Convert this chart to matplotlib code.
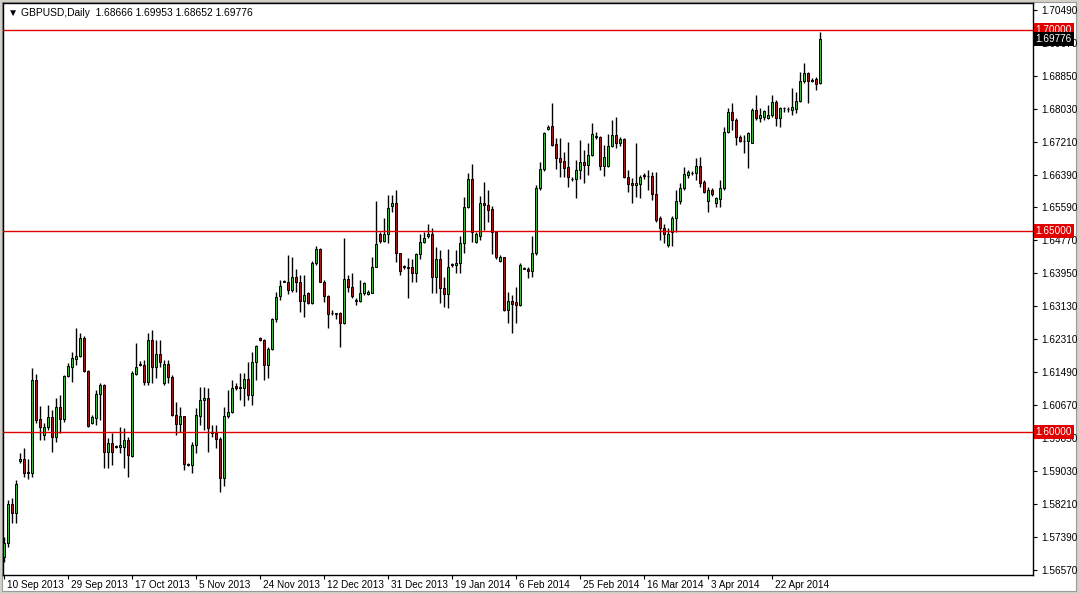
import matplotlib
matplotlib.use("Agg")
import matplotlib.pyplot as plt
import matplotlib.transforms as mtransforms
from matplotlib.patches import Rectangle

# GBPUSD daily candles, 10 Sep 2013 .. 6 May 2014
opens = [
    1.5689, 1.5724, 1.5821, 1.5799, 1.5928, 1.5933, 1.5901, 1.5898, 1.6129, 1.6032,
    1.5993, 1.6012, 1.6037, 1.5988, 1.6062, 1.6032, 1.6139, 1.6162, 1.6182, 1.6189,
    1.6234, 1.6152, 1.6022, 1.6035, 1.6095, 1.6117, 1.5950, 1.5973, 1.5965, 1.5963,
    1.5963, 1.5980, 1.5940, 1.6144, 1.6167, 1.6167, 1.6124, 1.6229, 1.6162, 1.6194,
    1.6122, 1.6169, 1.6137, 1.6042, 1.6020, 1.6040, 1.5920, 1.5918, 1.5968, 1.6040,
    1.6080, 1.6085, 1.6000, 1.5998, 1.5983, 1.5886, 1.6040, 1.6050, 1.6114, 1.6109,
    1.6109, 1.6132, 1.6092, 1.6174, 1.6234, 1.6229, 1.6167, 1.6206, 1.6281, 1.6337,
    1.6374, 1.6374, 1.6354, 1.6386, 1.6374, 1.6326, 1.6346, 1.6321, 1.6421, 1.6456,
    1.6374, 1.6337, 1.6296, 1.6296, 1.6296, 1.6271, 1.6381, 1.6361, 1.6326, 1.6326,
    1.6346, 1.6344, 1.6346, 1.6411, 1.6491, 1.6476, 1.6491, 1.6563, 1.6570, 1.6446,
    1.6411, 1.6409, 1.6411, 1.6396, 1.6443, 1.6473, 1.6486, 1.6493, 1.6386, 1.6431,
    1.6359, 1.6344, 1.6416, 1.6416, 1.6421, 1.6471, 1.6560, 1.6629, 1.6473, 1.6488,
    1.6570, 1.6565, 1.6555, 1.6496, 1.6426, 1.6436, 1.6304, 1.6326, 1.6324, 1.6316,
    1.6406, 1.6406, 1.6401, 1.6446, 1.6607, 1.6654, 1.6753, 1.6761, 1.6716, 1.6681,
    1.6674, 1.6659, 1.6629, 1.6629, 1.6652, 1.6672, 1.6664, 1.6689, 1.6733, 1.6733,
    1.6661, 1.6661, 1.6711, 1.6738, 1.6718, 1.6728, 1.6634, 1.6619, 1.6615, 1.6617,
    1.6637, 1.6637, 1.6637, 1.6592, 1.6533, 1.6506, 1.6466, 1.6496, 1.6531, 1.6573,
    1.6607, 1.6639, 1.6644, 1.6644, 1.6662, 1.6622, 1.6573, 1.6602, 1.6570, 1.6578,
    1.6607, 1.6746, 1.6796, 1.6776, 1.6733, 1.6724, 1.6724, 1.6719, 1.6801, 1.6781,
    1.6784, 1.6781, 1.6789, 1.6821, 1.6781, 1.6806, 1.6803, 1.6801, 1.6803, 1.6823,
    1.6873, 1.6893, 1.6875, 1.6878, 1.68666,
]
highs = [
    1.5739, 1.5831, 1.5836, 1.5881, 1.5948, 1.5960, 1.5933, 1.6159, 1.6144, 1.6065,
    1.6022, 1.6067, 1.6055, 1.6085, 1.6092, 1.6142, 1.6171, 1.6199, 1.6259, 1.6246,
    1.6239, 1.6154, 1.6042, 1.6104, 1.6122, 1.6119, 1.5985, 1.5998, 1.5968, 1.6012,
    1.6010, 1.5988, 1.6152, 1.6221, 1.6177, 1.6179, 1.6246, 1.6254, 1.6229, 1.6229,
    1.6179, 1.6179, 1.6142, 1.6075, 1.6062, 1.6040, 1.5923, 1.5975, 1.6060, 1.6112,
    1.6112, 1.6109, 1.6017, 1.6017, 1.5988, 1.6062, 1.6104, 1.6129, 1.6122, 1.6147,
    1.6147, 1.6174, 1.6199, 1.6216, 1.6236, 1.6231, 1.6211, 1.6283, 1.6348, 1.6379,
    1.6379, 1.6441, 1.6436, 1.6404, 1.6391, 1.6391, 1.6349, 1.6424, 1.6463, 1.6458,
    1.6379, 1.6341, 1.6304, 1.6296, 1.6298, 1.6483, 1.6391, 1.6396, 1.6334, 1.6379,
    1.6374, 1.6354, 1.6436, 1.6573, 1.6496, 1.6531, 1.6590, 1.6590, 1.6602, 1.6446,
    1.6416, 1.6433, 1.6429, 1.6446, 1.6491, 1.6496, 1.6516, 1.6508, 1.6461, 1.6453,
    1.6386, 1.6456, 1.6421, 1.6453, 1.6486, 1.6585, 1.6644, 1.6667, 1.6496, 1.6587,
    1.6622, 1.6602, 1.6563, 1.6496, 1.6441, 1.6436, 1.6349, 1.6341, 1.6361, 1.6421,
    1.6411, 1.6411, 1.6486, 1.6615, 1.6672, 1.6746, 1.6763, 1.6818, 1.6731, 1.6731,
    1.6696, 1.6721, 1.6634, 1.6676, 1.6726, 1.6701, 1.6719, 1.6768, 1.6746, 1.6736,
    1.6714, 1.6741, 1.6775, 1.6783, 1.6733, 1.6731, 1.6652, 1.6632, 1.6718, 1.6639,
    1.6644, 1.6652, 1.6647, 1.6647, 1.6538, 1.6516, 1.6508, 1.6536, 1.6602, 1.6619,
    1.6659, 1.6652, 1.6649, 1.6681, 1.6684, 1.6627, 1.6610, 1.6607, 1.6585, 1.6627,
    1.6758, 1.6806, 1.6818, 1.6781, 1.6738, 1.6738, 1.6746, 1.6806, 1.6838, 1.6806,
    1.6801, 1.6813, 1.6838, 1.6825, 1.6808, 1.6808, 1.6808, 1.6856, 1.6846, 1.6895,
    1.6917, 1.6895, 1.6880, 1.6883, 1.69953,
]
lows = [
    1.5677, 1.5714, 1.5774, 1.5774, 1.5923, 1.5888, 1.5883, 1.5888, 1.6022, 1.5980,
    1.5980, 1.6005, 1.5950, 1.5975, 1.5998, 1.6025, 1.6137, 1.6124, 1.6167, 1.6187,
    1.6149, 1.6012, 1.6020, 1.6017, 1.6030, 1.5910, 1.5910, 1.5918, 1.5960, 1.5948,
    1.5910, 1.5888, 1.5938, 1.6142, 1.6164, 1.6117, 1.6117, 1.6122, 1.6134, 1.6162,
    1.6117, 1.6122, 1.6040, 1.5993, 1.6000, 1.5905, 1.5915, 1.5898, 1.5948, 1.6017,
    1.6005, 1.5950, 1.5988, 1.5960, 1.5851, 1.5866, 1.6035, 1.6047, 1.6104, 1.6080,
    1.6065, 1.6080, 1.6067, 1.6129, 1.6226, 1.6129, 1.6134, 1.6204, 1.6273, 1.6328,
    1.6372, 1.6342, 1.6347, 1.6347, 1.6298, 1.6285, 1.6318, 1.6318, 1.6416, 1.6372,
    1.6324, 1.6259, 1.6291, 1.6281, 1.6211, 1.6269, 1.6349, 1.6334, 1.6316, 1.6324,
    1.6341, 1.6341, 1.6346, 1.6409, 1.6471, 1.6473, 1.6471, 1.6548, 1.6423, 1.6391,
    1.6404, 1.6334, 1.6372, 1.6372, 1.6429, 1.6471, 1.6483, 1.6346, 1.6346, 1.6321,
    1.6311, 1.6309, 1.6409, 1.6396, 1.6396, 1.6446, 1.6558, 1.6473, 1.6471, 1.6478,
    1.6503, 1.6523, 1.6443, 1.6429, 1.6423, 1.6301, 1.6271, 1.6246, 1.6271, 1.6314,
    1.6404, 1.6384, 1.6386, 1.6441, 1.6602, 1.6649, 1.6751, 1.6711, 1.6654, 1.6634,
    1.6634, 1.6609, 1.6624, 1.6582, 1.6629, 1.6619, 1.6639, 1.6686, 1.6728, 1.6651,
    1.6637, 1.6659, 1.6708, 1.6706, 1.6711, 1.6632, 1.6597, 1.6570, 1.6585, 1.6582,
    1.6629, 1.6602, 1.6577, 1.6523, 1.6478, 1.6471, 1.6461, 1.6463, 1.6496, 1.6568,
    1.6602, 1.6632, 1.6639, 1.6627, 1.6609, 1.6594, 1.6548, 1.6587, 1.6560, 1.6560,
    1.6602, 1.6743, 1.6751, 1.6714, 1.6721, 1.6694, 1.6656, 1.6719, 1.6776, 1.6771,
    1.6776, 1.6779, 1.6784, 1.6761, 1.6758, 1.6796, 1.6796, 1.6789, 1.6794, 1.6821,
    1.6868, 1.6818, 1.6870, 1.6850, 1.68652,
]
closes = [
    1.5724, 1.5821, 1.5799, 1.5871, 1.5933, 1.5898, 1.5898, 1.6129, 1.6030, 1.6012,
    1.6012, 1.6037, 1.5988, 1.6062, 1.6032, 1.6139, 1.6164, 1.6184, 1.6189, 1.6234,
    1.6152, 1.6015, 1.6037, 1.6095, 1.6117, 1.5950, 1.5973, 1.5950, 1.5963, 1.5968,
    1.5980, 1.5943, 1.6147, 1.6162, 1.6169, 1.6124, 1.6229, 1.6162, 1.6194, 1.6174,
    1.6169, 1.6137, 1.6042, 1.6020, 1.6040, 1.5920, 1.5918, 1.5968, 1.6042, 1.6080,
    1.6085, 1.6010, 1.5998, 1.5983, 1.5886, 1.6040, 1.6050, 1.6109, 1.6109, 1.6112,
    1.6132, 1.6092, 1.6174, 1.6214, 1.6229, 1.6167, 1.6206, 1.6281, 1.6336, 1.6364,
    1.6375, 1.6354, 1.6386, 1.6374, 1.6326, 1.6341, 1.6321, 1.6421, 1.6456, 1.6374,
    1.6337, 1.6294, 1.6297, 1.6294, 1.6271, 1.6381, 1.6361, 1.6337, 1.6327, 1.6346,
    1.6371, 1.6349, 1.6411, 1.6468, 1.6476, 1.6491, 1.6558, 1.6570, 1.6446, 1.6399,
    1.6412, 1.6408, 1.6396, 1.6443, 1.6473, 1.6483, 1.6493, 1.6386, 1.6431, 1.6359,
    1.6344, 1.6409, 1.6417, 1.6421, 1.6471, 1.6560, 1.6629, 1.6498, 1.6491, 1.6570,
    1.6565, 1.6553, 1.6496, 1.6436, 1.6436, 1.6304, 1.6326, 1.6319, 1.6316, 1.6414,
    1.6407, 1.6401, 1.6446, 1.6607, 1.6654, 1.6743, 1.6758, 1.6713, 1.6681, 1.6671,
    1.6656, 1.6634, 1.6630, 1.6652, 1.6672, 1.6664, 1.6689, 1.6741, 1.6736, 1.6661,
    1.6684, 1.6711, 1.6738, 1.6718, 1.6728, 1.6634, 1.6617, 1.6615, 1.6619, 1.6634,
    1.6638, 1.6636, 1.6592, 1.6528, 1.6506, 1.6491, 1.6493, 1.6531, 1.6573, 1.6607,
    1.6642, 1.6647, 1.6645, 1.6662, 1.6619, 1.6597, 1.6602, 1.6592, 1.6582, 1.6607,
    1.6746, 1.6796, 1.6776, 1.6733, 1.6724, 1.6723, 1.6743, 1.6801, 1.6781, 1.6789,
    1.6799, 1.6789, 1.6821, 1.6781, 1.6806, 1.6805, 1.6804, 1.6808, 1.6823, 1.6873,
    1.6893, 1.6873, 1.6873, 1.6865, 1.69776,
]

date_labels = ["10 Sep 2013", "29 Sep 2013", "17 Oct 2013", "5 Nov 2013",
               "24 Nov 2013", "12 Dec 2013", "31 Dec 2013", "19 Jan 2014",
               "6 Feb 2014", "25 Feb 2014", "16 Mar 2014", "3 Apr 2014",
               "22 Apr 2014"]
price_ticks = [1.70490, 1.69670, 1.68850, 1.68030, 1.67210, 1.66390, 1.65590,
               1.64770, 1.63950, 1.63130, 1.62310, 1.61490, 1.60670, 1.59850,
               1.59030, 1.58210, 1.57390, 1.56570]
levels = [1.70, 1.65, 1.60]
last_price = 1.69776
header = "\u25bc GBPUSD,Daily  1.68666 1.69953 1.68652 1.69776"

FONT = ["Liberation Sans", "DejaVu Sans"]
UP = "#3cb83c"
DOWN = "#a3161a"
LEVEL = "#e00000"

W, H = 1079, 594
fig = plt.figure(figsize=(W / 100, H / 100), dpi=100, facecolor="#d4d0c8")
frame = Rectangle((2 / W, 3 / H), 1074 / W, 589 / H, transform=fig.transFigure,
                  facecolor="white", edgecolor="#9a9a9a", lw=0.8, zorder=-10)
fig.patches.append(frame)

ax = fig.add_axes([3 / W, 19 / H, 1030 / W, 572 / H])
ax.set_zorder(5)
ax.set_facecolor("white")

n = len(closes)
xs = list(range(n))

# wicks
ax.vlines(xs, lows, highs, color="black", lw=1, zorder=2)
# bodies
bottoms = [min(o, c) for o, c in zip(opens, closes)]
heights = [abs(c - o) for o, c in zip(opens, closes)]
colors = [UP if c >= o else DOWN for o, c in zip(opens, closes)]
ax.bar(xs, heights, bottom=bottoms, width=0.64, color=colors,
       edgecolor="black", linewidth=0.7, zorder=3)

for lv in levels:
    ax.axhline(lv, color=LEVEL, lw=1, zorder=4)

ax.set_xlim(-0.25, 257.25)
ax.set_ylim(1.56446, 1.70664)

for s in ax.spines.values():
    s.set_color("black")
    s.set_linewidth(1)

# price axis on the right
ax.yaxis.tick_right()
ax.set_yticks(price_ticks)
ax.set_yticklabels(["%.5f" % v for v in price_ticks], family=FONT, fontsize=7.2)
ax.tick_params(axis="y", direction="out", length=3, width=0.8, pad=3, colors="black")

# time axis
ax.set_xticks(list(range(0, 16 * len(date_labels), 16)))
ax.set_xticklabels(date_labels, family=FONT, fontsize=7.2)
ax.tick_params(axis="x", direction="out", length=3, width=0.8, pad=0.5)
shift = mtransforms.ScaledTranslation(3 / 100, 0, fig.dpi_scale_trans)
for lab in ax.get_xticklabels():
    lab.set_horizontalalignment("left")
    lab.set_transform(lab.get_transform() + shift)

ax.text(0.005, 0.992, header, transform=ax.transAxes, va="top", ha="left",
        family=FONT, fontsize=7.4, color="black", zorder=6)

# level tags and current price tag (they sit over the hidden axis labels)
tag_tf = mtransforms.blended_transform_factory(ax.transAxes, ax.transData)
for lv in levels:
    ax.text(1.0025, lv, "%.5f" % lv, transform=tag_tf, va="center", ha="left",
            family=FONT, fontsize=7.2, color="white", clip_on=False, zorder=7,
            bbox=dict(boxstyle="square,pad=0.2", fc=LEVEL, ec="none"))
ax.text(1.0025, last_price, "%.5f" % last_price, transform=tag_tf, va="center",
        ha="left", family=FONT, fontsize=7.2, color="white", clip_on=False, zorder=7,
        bbox=dict(boxstyle="square,pad=0.2", fc="black", ec="none"))

fig.savefig("out.png", dpi=100, facecolor=fig.get_facecolor())
